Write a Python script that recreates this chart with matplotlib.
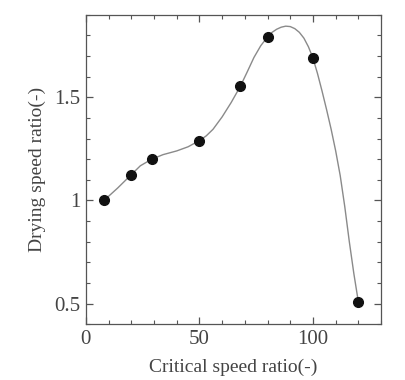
import matplotlib
matplotlib.use('Agg')
import matplotlib.pyplot as plt
from matplotlib.ticker import MultipleLocator


# measured points
CRIT_SPEED = [8, 20, 29, 50, 68, 80, 100, 120]
DRY_RATIO = [1.0, 1.125, 1.2, 1.29, 1.553, 1.793, 1.69, 0.507]

# fitted curve
CURVE_X = [8, 14, 20, 24, 29, 34, 40, 45, 50, 53, 56, 60, 64, 68, 71, 74, 77,
           80, 82, 84, 86, 88, 90, 92, 94, 96, 98, 100, 102, 104, 106, 108,
           110, 112, 114, 116, 118, 120]
CURVE_Y = [1.0, 1.06, 1.125, 1.168, 1.2, 1.222, 1.24, 1.26, 1.29, 1.313,
           1.345, 1.405, 1.475, 1.553, 1.622, 1.693, 1.75, 1.793, 1.815, 1.83,
           1.84, 1.845, 1.843, 1.833, 1.815, 1.787, 1.745, 1.69, 1.615, 1.53,
           1.44, 1.345, 1.24, 1.12, 0.97, 0.80, 0.645, 0.507]


def main():
    plt.rcParams['font.family'] = ['Liberation Serif', 'DejaVu Serif']
    fig = plt.figure(figsize=(4.05, 3.8), dpi=100)
    ax = fig.add_axes([0.212, 0.147, 0.729, 0.814])

    ax.plot(CURVE_X, CURVE_Y, color='#8a8a8a', linewidth=1.0, zorder=2)
    ax.plot(CRIT_SPEED, DRY_RATIO, 'o', color='#111111', markersize=7, zorder=3)

    ax.set_xlim(0, 130)
    ax.set_ylim(0.4, 1.9)
    ax.xaxis.set_major_locator(MultipleLocator(50))
    ax.xaxis.set_minor_locator(MultipleLocator(10))
    ax.yaxis.set_major_locator(MultipleLocator(0.5))
    ax.yaxis.set_minor_locator(MultipleLocator(0.1))
    ax.set_yticks([0.5, 1.0, 1.5])
    ax.set_yticklabels(['0.5', '1', '1.5'])

    ax.tick_params(which='both', direction='in', top=True, right=True,
                   color='#555555', labelsize=15, labelcolor='#444444')
    ax.tick_params(which='major', length=5, width=0.9, pad=4)
    ax.tick_params(which='minor', length=3, width=0.8)
    for s in ax.spines.values():
        s.set_color('#555555')
        s.set_linewidth(0.9)

    ax.set_xlabel('Critical speed ratio(-)', fontsize=14, color='#444444', labelpad=7)
    ax.set_ylabel('Drying speed ratio(-)', fontsize=14, color='#444444', labelpad=6)

    fig.savefig('out.png', dpi=100)


if __name__ == '__main__':
    main()
